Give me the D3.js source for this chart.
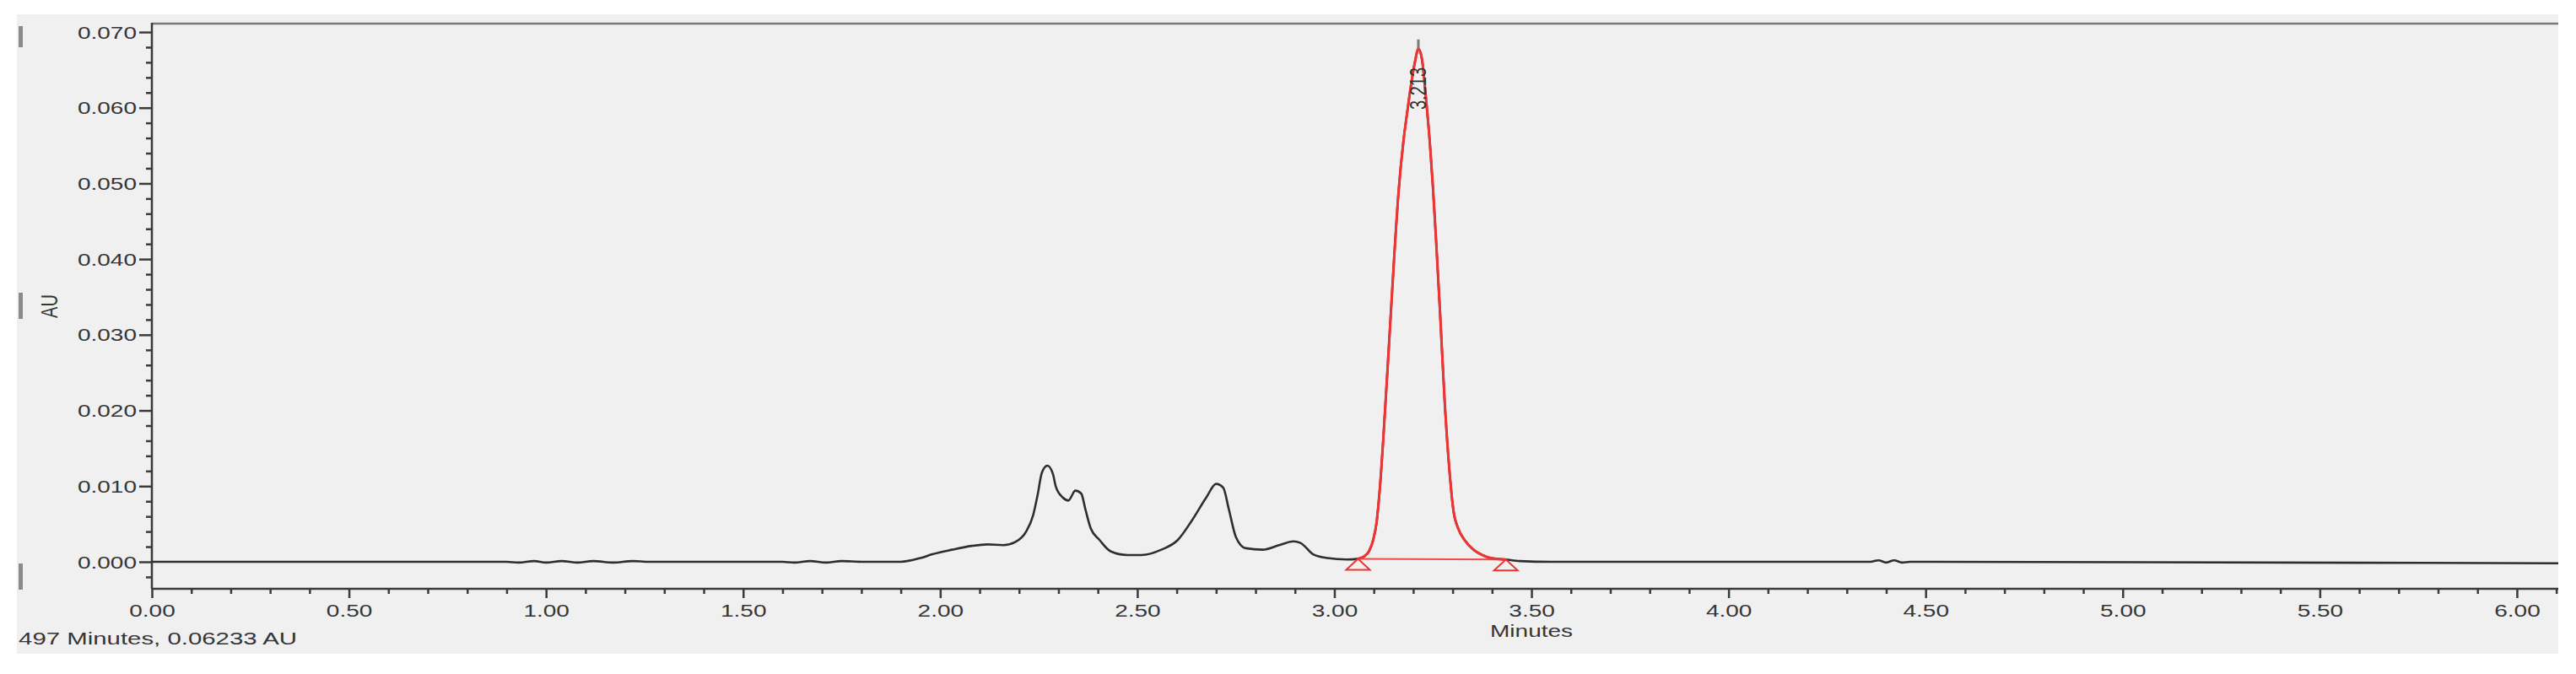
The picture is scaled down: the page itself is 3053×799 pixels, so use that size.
<!DOCTYPE html>
<html>
<head>
<meta charset="utf-8">
<script src="https://cdn.jsdelivr.net/npm/d3@7"></script>
<style>
  body { margin: 0; background: #ffffff; }
  svg { display: block; }
  text { font-family: "Liberation Sans", Arial, sans-serif; fill: #353535; }
</style>
</head>
<body>
<svg id="chart" width="3053" height="799"></svg>
<script>
// Chromatogram trace (minutes, AU)
var times = [0.00, 0.90, 0.93, 0.97, 1.00, 1.04, 1.08, 1.12, 1.17, 1.22, 1.26,
  1.60, 1.63, 1.67, 1.71, 1.75, 1.80, 1.90, 1.95, 1.98, 2.03, 2.08, 2.12, 2.16, 2.19,
  2.218, 2.236, 2.247, 2.258, 2.272, 2.286, 2.293, 2.311, 2.325, 2.343, 2.358, 2.368,
  2.382, 2.404, 2.432, 2.475, 2.511, 2.561, 2.603, 2.639, 2.675, 2.700, 2.718, 2.732,
  2.750, 2.775, 2.818, 2.860, 2.896, 2.914, 2.946, 2.982, 3.032, 3.060,
  3.075, 3.088, 3.099, 3.107, 3.115, 3.125, 3.140, 3.152, 3.163, 3.175, 3.185, 3.195,
  3.205, 3.213, 3.222, 3.231, 3.242, 3.250, 3.258, 3.268, 3.280, 3.292, 3.302, 3.315,
  3.330, 3.353, 3.375, 3.396, 3.435,
  3.47, 3.55, 4.36, 4.38, 4.40, 4.42, 4.44, 4.46, 6.105];
var absorbance = [0, 0, -0.0001, 0.0001, -0.0001, 0.0001, -0.0001, 0.0001, -0.0001, 0.0001, 0,
  0, -0.0001, 0.0001, -0.0001, 0.0001, 0, 0, 0.0005, 0.0010, 0.0016, 0.0021, 0.0023, 0.0022, 0.0026,
  0.0040, 0.0062, 0.0088, 0.0118, 0.0127, 0.0116, 0.0100, 0.0085, 0.0081, 0.0094, 0.0090, 0.0070,
  0.0044, 0.0029, 0.0014, 0.0009, 0.0009, 0.0016, 0.0029, 0.0055, 0.0085, 0.0103, 0.0098, 0.0070,
  0.0033, 0.0018, 0.0016, 0.0022, 0.0027, 0.0025, 0.0010, 0.0005, 0.0003, 0.0004,
  0.0007, 0.0014, 0.0030, 0.0052, 0.0095, 0.0170, 0.0300, 0.0405, 0.0490, 0.0555, 0.0595, 0.0632,
  0.0662, 0.0678, 0.0665, 0.0620, 0.0555, 0.0495, 0.0425, 0.0330, 0.0210, 0.0120, 0.0068, 0.0043,
  0.0029, 0.0016, 0.0009, 0.0005, 0.0003,
  0.0001, 0, 0, 0.0002, -0.0001, 0.0002, -0.0001, 0, -0.0002];

// Integrated peak
var peakStart = 3.060, peakEnd = 3.435;
var baselineTimes = [3.060, 3.435];
var baselineValues = [0.0004, 0.0003];
var peakTime = 3.213;
var peakApex = 0.0678;
var peakLabel = "3.213";

// Axes
var xTickValues = [0, 0.5, 1, 1.5, 2, 2.5, 3, 3.5, 4, 4.5, 5, 5.5, 6];
var xTickLabels = ["0.00", "0.50", "1.00", "1.50", "2.00", "2.50", "3.00", "3.50", "4.00", "4.50", "5.00", "5.50", "6.00"];
var yTickValues = [0, 0.01, 0.02, 0.03, 0.04, 0.05, 0.06, 0.07];
var yTickLabels = ["0.000", "0.010", "0.020", "0.030", "0.040", "0.050", "0.060", "0.070"];
var xTitle = "Minutes";
var yTitle = "AU";
var cursorText = "497 Minutes, 0.06233 AU";

const svg = d3.select('#chart');
const stretch = 1.4;   // the picture is widened, text too

// Set up plot area
const plotLeft = 180, plotRight = 3032, plotTop = 28, plotBottom = 698;

const xscale = d3.scaleLinear()
  .domain([0, 6.105])
  .range([plotLeft, plotRight]);

const yscale = d3.scaleLinear()
  .domain([0, 0.07])
  .range([666, 38]);

// grey panel + little bars on its left edge
svg.append('rect')
  .attr('x', 20).attr('y', 17)
  .attr('width', 3012).attr('height', 758)
  .style('fill', '#f0f0f0');

[[31, 56], [347, 378], [668, 699]].forEach(function(b) {
  svg.append('rect')
    .attr('x', 22).attr('y', b[0])
    .attr('width', 5).attr('height', b[1] - b[0])
    .style('fill', '#8a8a8a');
});

svg.append('defs').append('clipPath').attr('id', 'panel')
  .append('rect').attr('x', 20).attr('y', 17).attr('width', 3012).attr('height', 758);

// top border
svg.append('line')
  .attr('x1', plotLeft).attr('x2', plotRight)
  .attr('y1', plotTop).attr('y2', plotTop)
  .style('stroke', '#7a7a7a')
  .style('stroke-width', 2.5);

// minor ticks
var yMinor = d3.range(-0.002, 0.0705, 0.002).filter(function(v) {
  return Math.abs(Math.round(v * 100) - v * 100) > 1e-6;
});
var xMinor = d3.range(0, 6.105, 0.1).filter(function(v) {
  return Math.abs(Math.round(v * 2) - v * 2) > 1e-6;
});

svg.append('g')
  .attr('transform', `translate(${plotLeft},0)`)
  .call(d3.axisLeft(yscale).tickValues(yMinor).tickSize(7).tickFormat(''))
  .call(g => g.select('.domain').remove())
  .selectAll('line').style('stroke', '#3a3a3a').style('stroke-width', 2.5);

svg.append('g')
  .attr('transform', `translate(0,${plotBottom})`)
  .call(d3.axisBottom(xscale).tickValues(xMinor).tickSize(6).tickFormat(''))
  .call(g => g.select('.domain').remove())
  .selectAll('line').style('stroke', '#3a3a3a').style('stroke-width', 2.5);

// major ticks + labels
const yaxis = svg.append('g')
  .attr('transform', `translate(${plotLeft},0)`)
  .call(d3.axisLeft(yscale)
    .tickValues(yTickValues)
    .tickSize(15)
    .tickFormat(function(d, i) { return yTickLabels[i]; }))
  .call(g => g.select('.domain').remove());

yaxis.selectAll('line').style('stroke', '#3a3a3a').style('stroke-width', 2.5);
yaxis.selectAll('text')
  .attr('x', -18 / stretch)
  .attr('dy', '0.35em')
  .attr('transform', `scale(${stretch},1)`)
  .style('font-size', '20px')
  .style('fill', '#353535')
  .style('font-family', '"Liberation Sans", Arial, sans-serif');

const xaxis = svg.append('g')
  .attr('transform', `translate(0,${plotBottom})`)
  .call(d3.axisBottom(xscale)
    .tickValues(xTickValues)
    .tickSize(11)
    .tickFormat(function(d, i) { return xTickLabels[i]; }))
  .call(g => g.select('.domain').remove());

xaxis.selectAll('line').style('stroke', '#3a3a3a').style('stroke-width', 2.5);
xaxis.selectAll('text')
  .attr('y', 26)
  .attr('dy', '0.35em')
  .attr('transform', `scale(${stretch},1)`)
  .style('font-size', '20px')
  .style('fill', '#353535')
  .style('font-family', '"Liberation Sans", Arial, sans-serif');

// axis lines
svg.append('line')
  .attr('x1', plotLeft).attr('x2', plotLeft)
  .attr('y1', plotTop - 1).attr('y2', plotBottom)
  .style('stroke', '#3a3a3a').style('stroke-width', 2.5);
svg.append('line')
  .attr('x1', plotLeft).attr('x2', plotRight)
  .attr('y1', plotBottom).attr('y2', plotBottom)
  .style('stroke', '#3a3a3a').style('stroke-width', 2.5);

// Titles
svg.append('text')
  .attr('transform', `translate(58,363) scale(${stretch},1) rotate(-90)`)
  .attr('text-anchor', 'middle')
  .attr('dy', '0.35em')
  .style('font-size', '20px')
  .text(yTitle);

svg.append('text')
  .attr('transform', `translate(${xscale(3.5)},748) scale(${stretch},1)`)
  .attr('text-anchor', 'middle')
  .attr('dy', '0.35em')
  .style('font-size', '20px')
  .text(xTitle);

svg.append('g')
  .attr('clip-path', 'url(#panel)')
  .append('text')
  .attr('transform', `translate(352,757) scale(${stretch},1)`)
  .attr('text-anchor', 'end')
  .attr('dy', '0.35em')
  .style('font-size', '21px')
  .text(cursorText);

// Create lines
var trace = times.map(function(t, i) { return {x: t, y: absorbance[i]}; });
var peak = trace.filter(function(d) { return d.x >= peakStart && d.x <= peakEnd; });

var line = d3.line()
  .x(function(d) { return xscale(d.x); })
  .y(function(d) { return yscale(d.y); })
  .curve(d3.curveMonotoneX);

svg.append('path')
  .datum(trace)
  .attr('d', line)
  .style('fill', 'none')
  .style('stroke', '#2e2e2e')
  .style('stroke-width', 2.6)
  .style('stroke-linejoin', 'round');

// integration baseline
var base = baselineTimes.map(function(t, i) { return {x: t, y: baselineValues[i]}; });
svg.append('path')
  .datum(base)
  .attr('d', d3.line().x(d => xscale(d.x)).y(d => yscale(d.y)))
  .style('fill', 'none')
  .style('stroke', '#f24a4a')
  .style('stroke-width', 2);

svg.append('path')
  .datum(peak)
  .attr('d', line)
  .style('fill', 'none')
  .style('stroke', '#f03434')
  .style('stroke-width', 3)
  .style('stroke-linejoin', 'round');

// start / end markers
svg.selectAll('.mark')
  .data(base)
  .enter().append('path')
  .attr('class', 'mark')
  .attr('d', function(d) {
    var cx = xscale(d.x), cy = yscale(d.y);
    return `M${cx},${cy} L${cx + 14},${cy + 13} L${cx - 14},${cy + 13} Z`;
  })
  .style('fill', 'none')
  .style('stroke', '#f03434')
  .style('stroke-width', 2);

// apex tick + retention time label
svg.append('line')
  .attr('x1', xscale(peakTime)).attr('x2', xscale(peakTime))
  .attr('y1', yscale(peakApex)).attr('y2', yscale(peakApex) - 11)
  .style('stroke', '#7a7a7a')
  .style('stroke-width', 3);

svg.append('text')
  .attr('transform', `translate(${xscale(peakTime) - 1},105) scale(${stretch},1) rotate(-90)`)
  .attr('text-anchor', 'middle')
  .attr('dy', '0.35em')
  .style('font-size', '20px')
  .style('fill', '#333')
  .text(peakLabel);
</script>
</body>
</html>
